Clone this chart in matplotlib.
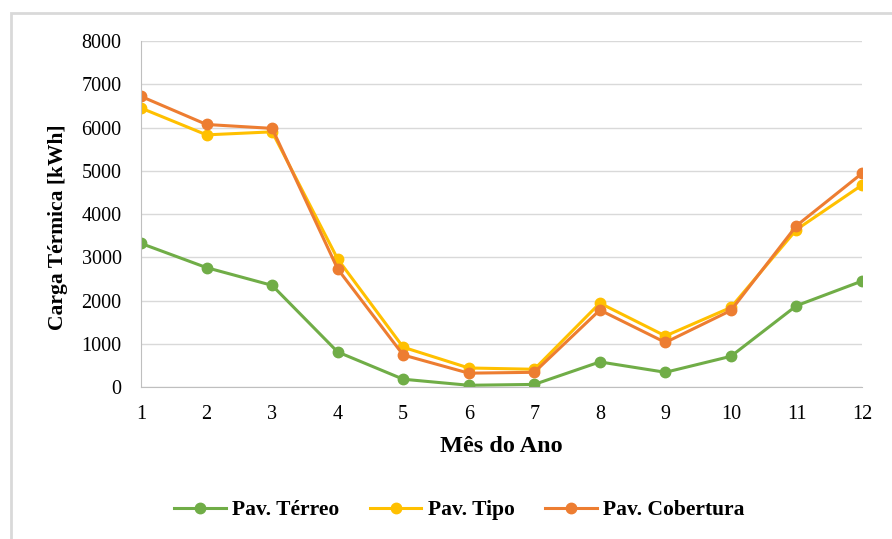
import matplotlib
matplotlib.use("Agg")
import matplotlib.pyplot as plt
from matplotlib.patches import Rectangle

plt.rcParams['font.family'] = ['Liberation Serif', 'DejaVu Serif']

meses = [1, 2, 3, 4, 5, 6, 7, 8, 9, 10, 11, 12]
terreo = [3320, 2760, 2350, 810, 180, 40, 60, 580, 340, 710, 1880, 2450]
tipo = [6450, 5830, 5900, 2960, 920, 440, 410, 1940, 1180, 1840, 3640, 4670]
cobertura = [6720, 6070, 5980, 2730, 740, 320, 340, 1780, 1030, 1770, 3730, 4940]

series = [("Pav. Térreo", terreo, "#70AD47"),
          ("Pav. Tipo", tipo, "#FFC000"),
          ("Pav. Cobertura", cobertura, "#ED7D31")]

fig = plt.figure(figsize=(8.92, 5.39), dpi=100)
ax = fig.add_axes([0.1581, 0.282, 0.8083, 0.6419])

# moldura clara em volta do gráfico
fig.patches.append(Rectangle((0.012, -0.05), 1.2, 1.026, transform=fig.transFigure,
                             fill=False, edgecolor="#D9D9D9", linewidth=2.0))

for nome, valores, cor in series:
    ax.plot(meses, valores, color=cor, linewidth=2.2, marker="o",
            markersize=7.5, label=nome)

ax.set_xlim(1, 12)
ax.set_ylim(0, 8000)
ax.set_xticks(meses)
ax.set_yticks(range(0, 8001, 1000))
ax.yaxis.grid(True, color="#D9D9D9", linewidth=1.0)
ax.set_axisbelow(True)
for s in ["right", "top"]:
    ax.spines[s].set_visible(False)
ax.spines["left"].set_color("#BFBFBF")
ax.spines["bottom"].set_color("#BFBFBF")
ax.tick_params(axis="both", length=0, labelsize=14.5)
ax.tick_params(axis="x", pad=13)
ax.tick_params(axis="y", pad=14)

ax.set_xlabel("Mês do Ano", fontsize=17.5, fontweight="bold")
ax.xaxis.set_label_coords(0.5, -0.173)
ax.xaxis.label.set_va("center")
ax.set_ylabel("Carga Térmica [kWh]", fontsize=15.5, fontweight="bold")
ax.yaxis.set_label_coords(-0.115, 0.462)
ax.yaxis.label.set_va("center")

fig.legend(loc="center", bbox_to_anchor=(0.515, 0.053), ncol=3, frameon=False,
           prop={"weight": "bold", "size": 15.5}, handlelength=2.4,
           columnspacing=1.4, handletextpad=0.3)

fig.savefig("out.png", dpi=100)
